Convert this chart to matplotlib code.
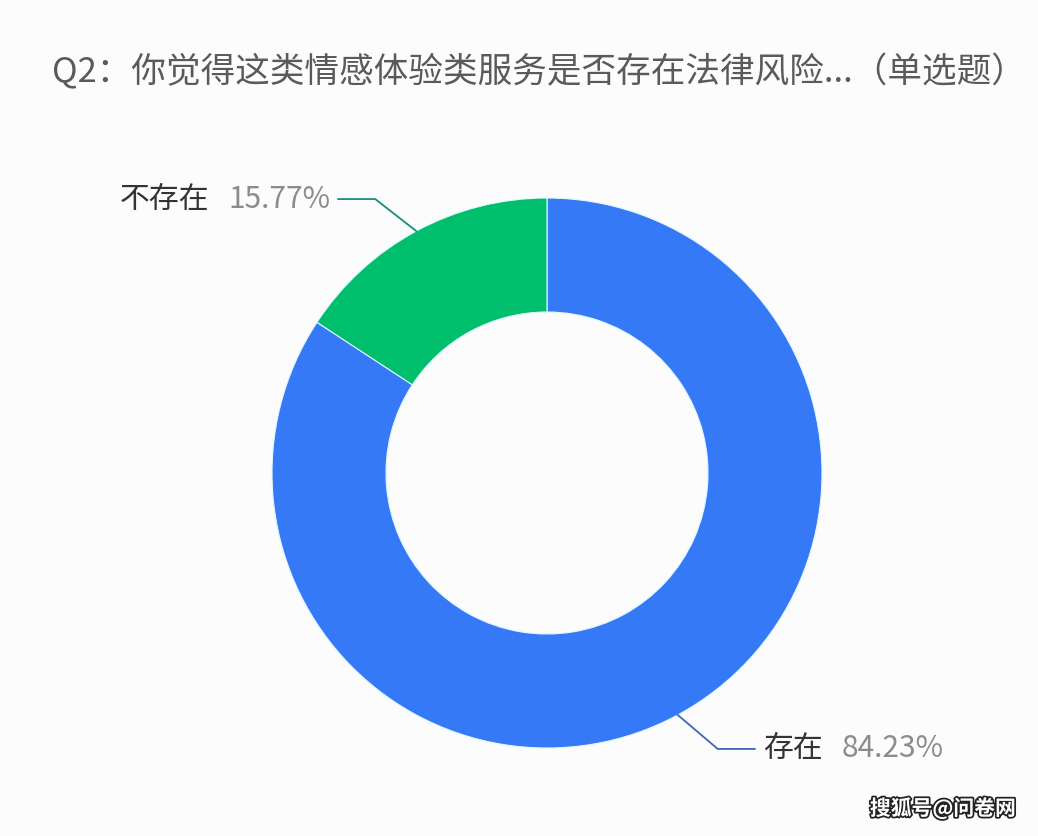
import numpy as np
import matplotlib.pyplot as plt
from matplotlib import patheffects

plt.rcParams['font.family'] = ['Noto Sans CJK SC', 'DejaVu Sans']

title = 'Q2：你觉得这类情感体验类服务是否存在法律风险...（单选题）'
labels = ['存在', '不存在']
values = [84.23, 15.77]
colors = ['#3579f6', '#00bf6c']
line_colors = ['#3d66b5', '#16907a']
watermark = '搜狐号@问卷网'

W, H = 1038, 836
fig = plt.figure(figsize=(W / 100, H / 100), dpi=100)
fig.patch.set_facecolor('#fcfcfc')
ax = fig.add_axes([0, 0, 1, 1])
ax.set_facecolor('#fcfcfc')

# donut, pixel units
cx, cy, R = 547, H - 473, 275
wedges, _ = ax.pie(values, colors=colors, startangle=90, counterclock=False,
                   radius=R, center=(cx, cy), frame=True,
                   wedgeprops=dict(width=114, edgecolor='#dff8ff', linewidth=0.8))
ax.set_xlim(0, W)
ax.set_ylim(0, H)
ax.axis('off')

fig.text(52 / W, 1 - 72 / H, title, ha='left', va='center', fontsize=24.9, color='#5a5a5a')

renderer = fig.canvas.get_renderer()
offsets = [(40, -34), (-41, 32)]
seg = 37
gap = 19
for w, lab, val, lc, (dx, dy) in zip(wedges, labels, values, line_colors, offsets):
    mid = np.deg2rad((w.theta1 + w.theta2) / 2)
    x0, y0 = cx + R * np.cos(mid), cy + R * np.sin(mid)
    x1, y1 = x0 + dx, y0 + dy
    x2 = x1 + np.sign(dx) * seg
    ax.plot([x0, x1, x2], [y0, y1, y1], color=lc, lw=1.3, solid_joinstyle='miter')
    pct = f'{val:.2f}%'
    if dx > 0:
        t = ax.text(x2 + 8, y1, lab, ha='left', va='center', fontsize=21.5, color='#333333')
        bb = t.get_window_extent(renderer)
        ax.text(bb.x1 + gap, y1, pct, ha='left', va='center', fontsize=21.5, color='#8c8c8c')
    else:
        t = ax.text(x2 - 8, y1, pct, ha='right', va='center', fontsize=21.5, color='#8c8c8c')
        bb = t.get_window_extent(renderer)
        ax.text(bb.x0 - gap, y1, lab, ha='right', va='center', fontsize=21.5, color='#333333')

fig.text(943 / W, 1 - 808 / H, watermark, ha='center', va='center', fontsize=15,
         fontweight='bold', color='white',
         path_effects=[patheffects.withStroke(linewidth=2.5, foreground='#222222')])

fig.savefig('out.png', dpi=100, facecolor=fig.get_facecolor())
